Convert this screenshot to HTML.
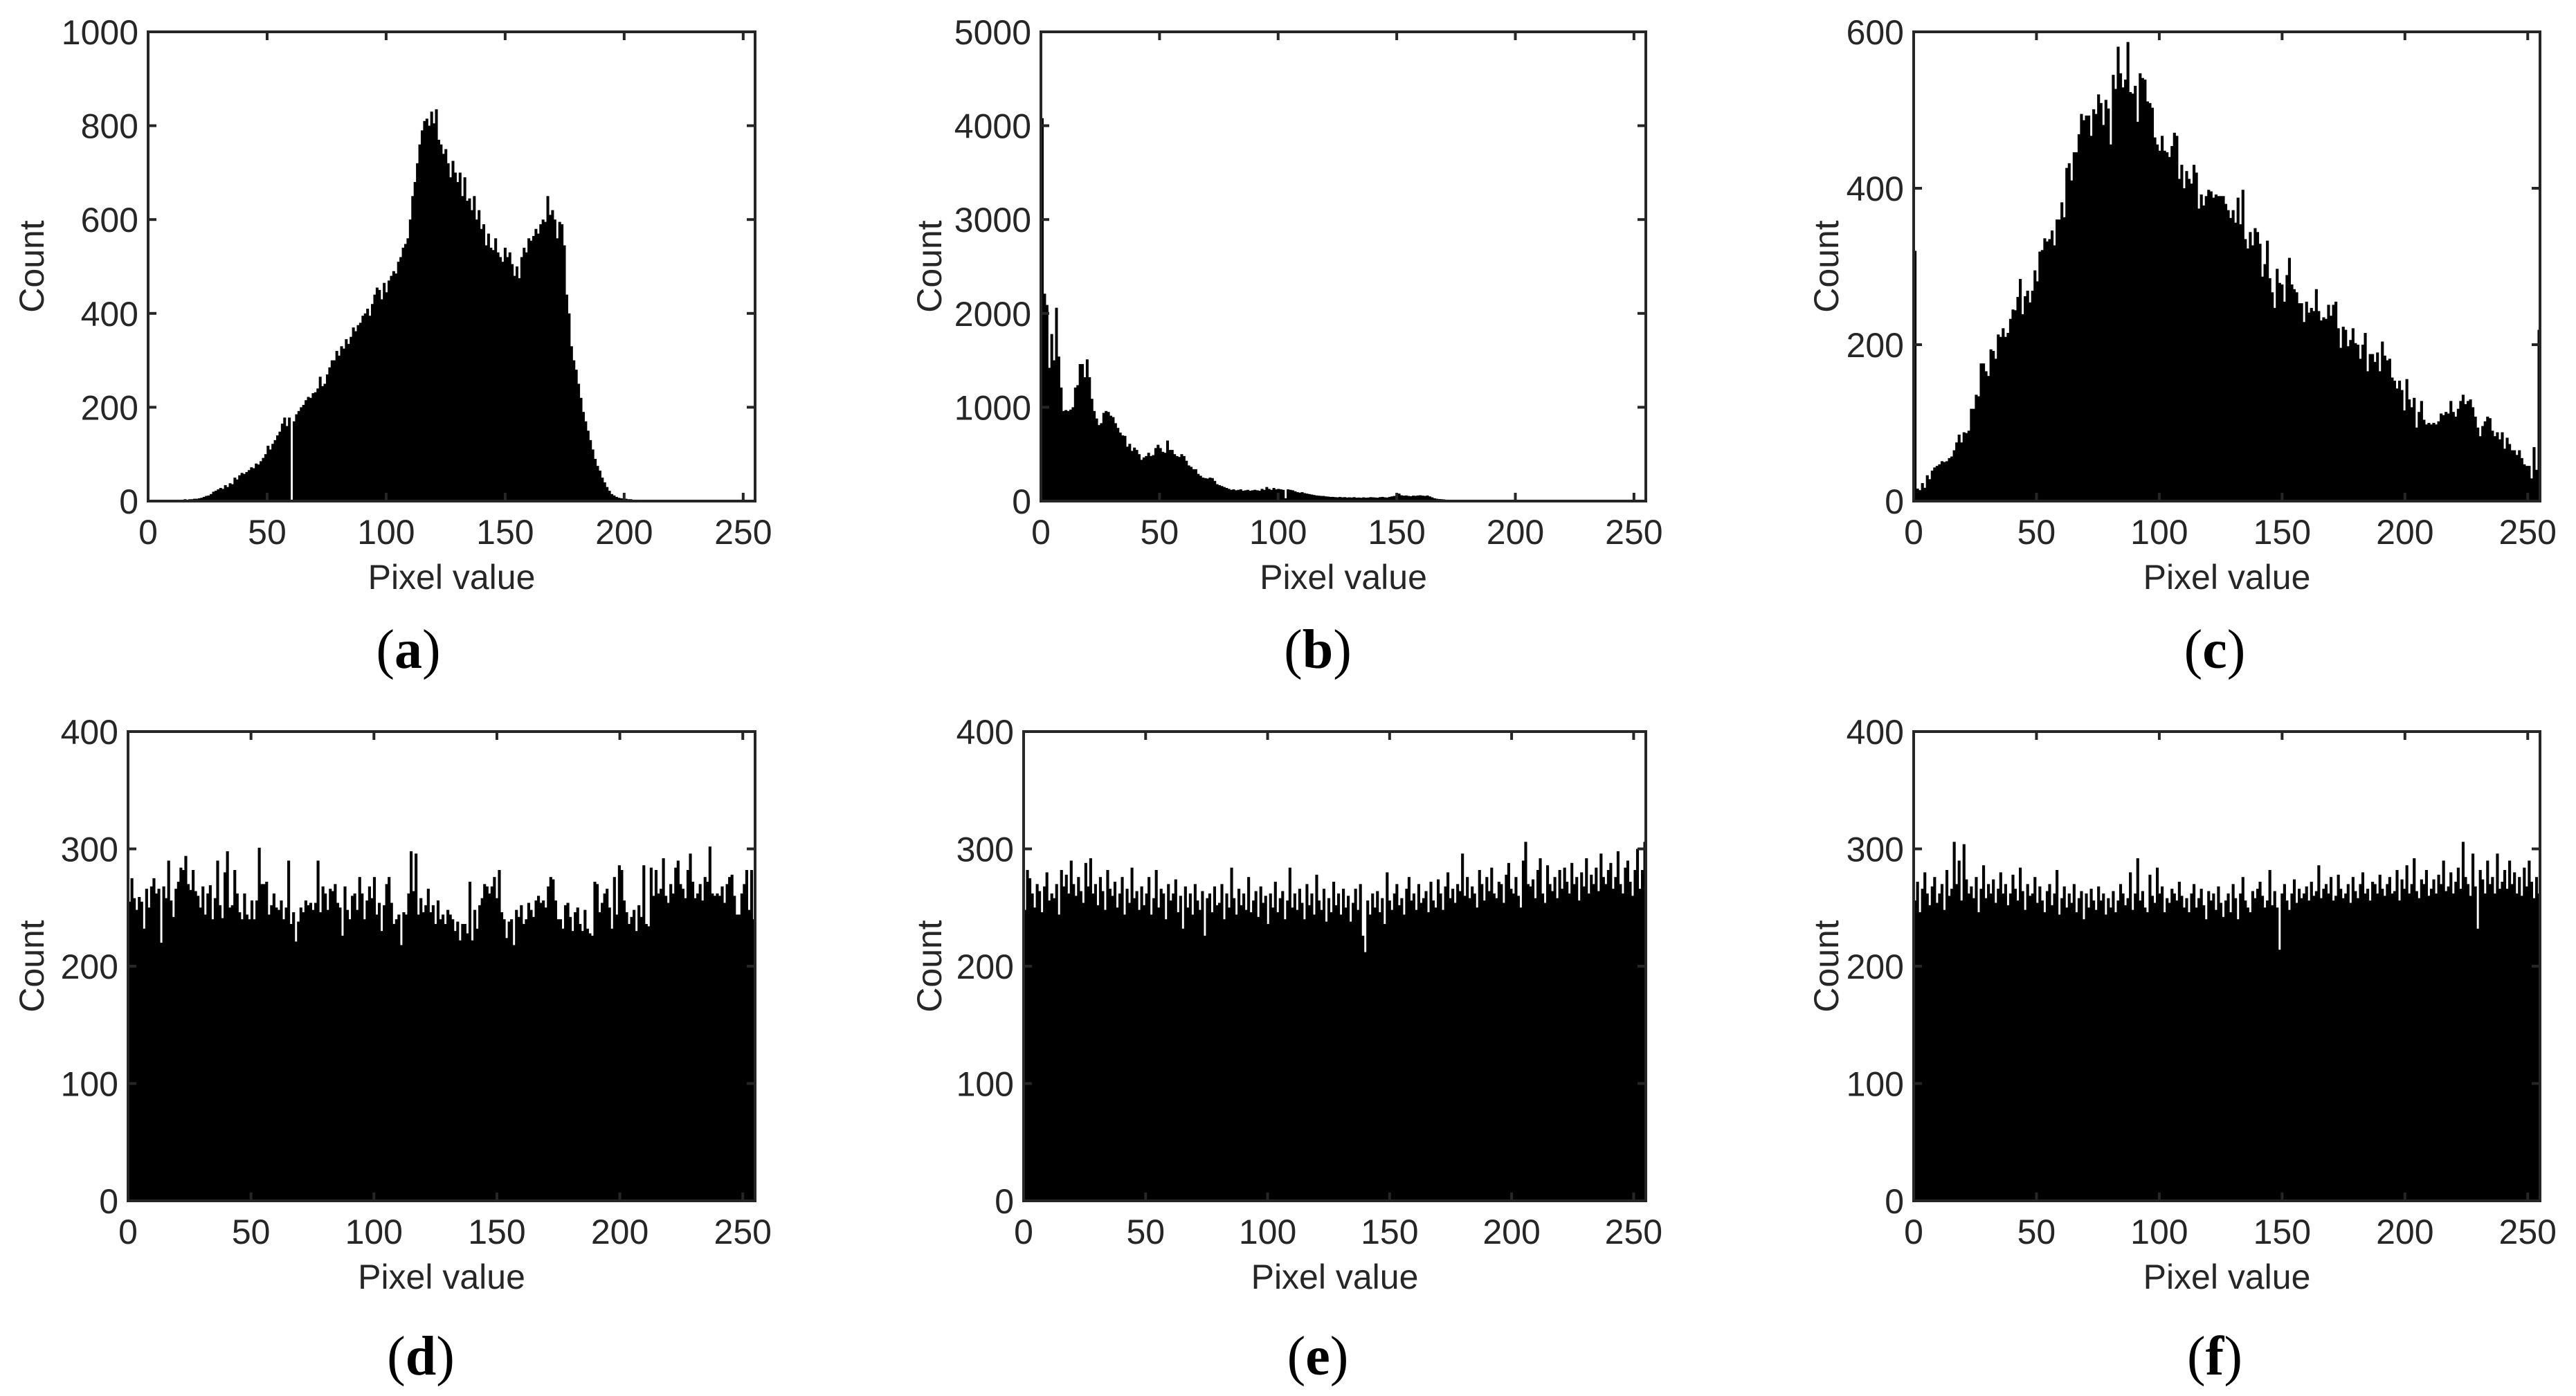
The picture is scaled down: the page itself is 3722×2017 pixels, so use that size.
<!DOCTYPE html>
<html><head><meta charset="utf-8">
<style>
html,body{margin:0;padding:0;background:#fff;}
svg{display:block;}
text{font-family:"Liberation Sans",Arial,sans-serif;fill:#262626;}
.lbl{font-family:"Liberation Serif","Times New Roman",serif;fill:#000;}
</style></head>
<body>
<svg id="fig" width="3722" height="2017" viewBox="0 0 3722 2017" xmlns="http://www.w3.org/2000/svg"></svg>
<script>
const binsA = [0,0,0,0,0,0,0,0,0,0,
1,2,3,2,3,4,3,4,4,5,
5,6,7,9,11,12,15,20,22,25,
28,26,34,30,38,36,50,46,55,60,
58,62,66,72,70,80,78,85,92,100,
118,110,122,130,140,148,165,178,160,178,
0,170,185,192,200,205,215,222,220,230,
232,240,265,245,250,270,285,300,300,320,
310,330,325,345,335,350,370,362,375,380,
395,400,410,395,420,440,455,450,430,465,
445,470,480,490,485,510,520,540,548,560,
600,650,680,720,760,790,810,815,800,830,
805,835,770,760,740,750,720,690,725,700,
680,700,650,690,640,645,620,650,600,620,
580,590,545,570,540,535,560,530,520,510,
540,520,530,505,480,500,475,520,540,530,
560,555,565,580,570,590,600,595,650,610,
620,600,560,595,590,545,440,400,330,300,
280,250,220,190,170,150,130,110,90,75,
65,50,40,30,22,15,12,9,7,6,
5,5,4,4,3,3,3,2,2,2,
2,2,1,1,1,1,1,1,1,1,
0,0,0,0,0,0,0,0,0,0,
0,0,0,0,0,0,0,0,0,0,
0,0,0,0,0,0,0,0,0,0,
0,0,0,0,0,0];
const binsB = [4080,2210,2090,1420,1780,1500,2060,1540,1210,960,
970,960,975,1000,1210,1235,1460,1460,1320,1510,
1320,1090,960,880,810,830,940,960,950,910,
895,830,780,730,700,695,580,610,535,570,
545,500,440,465,480,515,480,490,565,600,
565,525,515,645,545,545,500,480,470,500,
480,430,380,365,340,340,290,270,250,245,
240,250,245,215,180,170,160,150,140,130,
120,125,115,120,125,110,115,120,110,115,
120,115,110,130,120,150,130,120,140,125,
130,125,120,30,125,120,115,105,95,90,
95,85,80,75,70,65,60,58,55,55,
50,48,45,45,42,40,45,40,42,38,
40,38,42,36,38,35,40,36,38,42,
40,38,36,42,45,40,38,45,50,55,
60,80,62,58,60,55,52,58,56,60,
62,58,55,60,50,40,30,25,22,20,
18,15,14,12,12,10,10,10,9,9,
8,8,7,7,6,6,6,5,5,5,
5,5,4,4,4,4,4,4,4,4,
3,3,3,3,3,3,3,3,3,3,
3,3,3,3,3,2,2,2,2,2,
2,2,2,2,2,2,2,2,2,2,
2,2,2,2,2,2,2,2,2,2,
2,2,2,2,10,2,12,2,2,2,
8,2,2,2,2,2];
const binsC = [320,16,14,23,17,33,28,39,43,45,47,51,50,51,55,57,65,75,85,75,
88,87,90,118,118,136,134,176,176,166,160,194,192,182,213,210,221,210,215,233,
245,244,261,284,239,262,269,254,269,295,281,319,321,336,332,335,346,327,360,360,
382,363,426,432,410,446,446,469,495,487,493,493,467,501,495,520,509,481,513,502,
456,545,527,581,547,529,539,587,523,521,531,485,547,541,539,511,509,503,465,456,
448,467,448,446,440,454,471,467,412,430,400,422,412,406,430,420,374,392,378,390,
398,396,388,392,390,390,390,380,372,362,372,356,388,354,398,335,323,344,327,349,
344,329,287,303,333,285,267,247,297,279,277,255,289,311,277,271,267,253,253,229,
255,241,247,243,271,243,231,235,233,251,237,251,255,221,196,223,219,198,206,221,
202,200,182,200,215,166,188,188,178,190,166,204,186,180,182,158,154,144,154,142,
116,156,130,120,132,94,114,128,104,98,100,98,100,98,102,112,110,114,112,128,
114,108,118,128,136,124,128,130,120,108,94,83,96,102,108,106,90,83,88,79,
88,67,81,73,65,65,59,65,55,47,45,45,29,69,40,219];
const binsD = [255,275,258,248,259,255,232,266,250,268,275,262,266,220,268,258,
290,256,242,266,272,284,282,294,270,265,282,264,260,250,268,244,
262,269,240,258,290,252,241,280,298,250,252,282,262,246,240,262,
244,240,256,240,256,301,270,270,272,244,252,262,250,248,256,240,
250,290,236,246,221,238,250,246,256,252,254,248,254,290,246,268,
262,248,266,264,270,254,250,226,268,248,240,260,262,248,276,262,
240,256,268,258,276,244,254,230,252,270,276,254,236,240,244,218,
246,244,262,298,264,296,244,258,246,252,266,246,252,236,256,240,
244,236,248,244,240,230,238,222,236,236,228,272,222,248,232,252,
258,270,268,262,268,276,258,282,246,240,224,238,240,218,248,242,
252,236,240,254,248,242,256,260,254,256,250,268,276,274,256,240,
240,232,252,254,242,230,246,250,236,230,248,232,228,226,272,270,
246,254,262,266,250,232,276,244,286,282,256,246,236,242,248,230,
252,242,286,236,234,284,260,282,262,266,292,260,254,270,262,284,
290,270,266,258,282,296,272,258,262,270,256,276,272,302,262,260,
262,260,268,254,270,276,278,260,244,244,262,270,282,248,282,240];
const binsE = [248,282,275,262,250,270,264,246,268,280,256,262,258,270,244,282,
268,278,262,290,270,260,276,264,254,288,268,292,262,270,252,276,
264,248,282,266,260,272,250,262,276,244,266,254,284,258,264,248,
268,252,262,276,244,258,282,250,266,262,240,270,256,262,274,246,
260,232,268,250,262,244,270,256,248,264,226,258,262,246,268,252,
254,270,240,262,250,284,258,244,266,252,262,248,276,246,256,264,
242,268,254,260,236,262,250,272,246,258,264,240,256,284,250,262,
248,266,254,240,270,252,262,244,278,256,248,266,238,258,246,272,
252,262,244,266,250,260,238,254,266,248,270,226,212,256,244,262,
250,264,246,258,236,280,256,248,262,270,252,258,244,266,276,256,
262,248,270,254,258,264,246,272,256,250,274,262,248,268,280,258,
266,254,270,264,296,260,276,258,268,262,250,282,270,256,276,264,
284,262,258,272,270,254,278,288,266,262,276,260,250,290,306,270,
268,274,258,282,292,262,254,286,270,264,276,258,282,266,284,272,
262,288,270,276,256,280,268,292,262,278,270,284,264,296,276,270,
282,288,266,276,298,270,262,284,290,272,260,282,300,266,282,306];
const binsF = [256,272,246,266,280,262,252,268,276,254,262,270,248,282,260,266,
306,270,290,256,304,274,262,268,258,276,246,266,286,258,270,262,
274,254,266,280,262,270,252,262,278,266,256,284,264,248,270,260,
262,276,254,268,256,246,264,270,252,262,282,244,258,268,250,262,
254,270,246,258,264,240,262,250,266,256,248,268,256,262,244,258,
250,264,246,256,270,262,252,258,280,248,262,292,256,264,250,246,
278,260,254,284,262,268,246,258,254,266,262,256,272,260,250,258,
246,262,270,250,258,266,252,240,264,256,262,248,268,254,242,256,
262,246,270,258,240,262,276,256,250,246,264,258,266,272,260,250,
256,282,252,264,250,214,262,270,256,248,262,274,254,266,258,262,
268,256,272,260,264,286,258,266,270,262,276,256,260,278,266,258,
262,270,254,276,264,258,270,280,262,266,256,272,270,262,278,266,
260,270,276,262,264,282,256,274,266,286,262,270,292,264,258,274,
270,282,260,266,274,262,278,270,290,264,268,280,262,272,284,266,
306,276,270,260,296,268,232,282,274,262,290,270,276,262,296,266,
272,282,266,290,270,280,262,276,260,284,268,290,272,258,276,262];
const xTicks = [0,50,100,150,200,250];
const yTicksA = [0,200,400,600,800,1000];
const yTicksB = [0,1000,2000,3000,4000,5000];
const yTicksC = [0,200,400,600];
const yTicksD = [0,100,200,300,400];
const panelLetters = ["a","b","c","d","e","f"];

const NS = "http://www.w3.org/2000/svg";
const svg = document.getElementById("fig");
function mk(tag, attrs, parent) {
  const e = document.createElementNS(NS, tag);
  for (const k in attrs) e.setAttribute(k, attrs[k]);
  (parent || svg).appendChild(e);
  return e;
}
const panels = [
  {bins: binsA, yt: yTicksA, x0: 214, x1: 1091, y0: 46, y1: 724, lx: 590, cx: 46, ly: 939},
  {bins: binsB, yt: yTicksB, x0: 1504, x1: 2378, y0: 46, y1: 724, lx: 1904, cx: 1343, ly: 939},
  {bins: binsC, yt: yTicksC, x0: 2765, x1: 3670, y0: 46, y1: 724, lx: 3200, cx: 2639, ly: 939},
  {bins: binsD, yt: yTicksD, x0: 185, x1: 1091, y0: 1057, y1: 1735, lx: 608, cx: 46, ly: 1960},
  {bins: binsE, yt: yTicksD, x0: 1479, x1: 2378, y0: 1057, y1: 1735, lx: 1904, cx: 1343, ly: 1960},
  {bins: binsF, yt: yTicksD, x0: 2765, x1: 3670, y0: 1057, y1: 1735, lx: 3200, cx: 2639, ly: 1960}
];
panels.forEach((p, pi) => {
  const letter = panelLetters[pi];
  const g = mk("g", {});
  
  
  const ymax = p.yt[p.yt.length - 1];
  const xs = v => p.x0 + (v / 255) * (p.x1 - p.x0);
  const ys = v => p.y1 - (Math.min(v, ymax) / ymax) * (p.y1 - p.y0);
  const bw = (p.x1 - p.x0) / p.bins.length;
  const bars = mk("g", {}, g);
  
  
  p.bins.forEach((v, i) => {
    if (v <= 0) return;
    const y = ys(v);
    const r = mk("rect", {x: (p.x0 + i * bw).toFixed(2), y: y.toFixed(2), width: (bw + 0.6).toFixed(2), height: (p.y1 - y).toFixed(2), fill: "#000"}, bars);
    
    
  });
  const box = mk("rect", {x: p.x0, y: p.y0, width: p.x1 - p.x0, height: p.y1 - p.y0, fill: "none", stroke: "#262626", "stroke-width": 4}, g);
  
  
  xTicks.forEach(t => {
    const x = xs(t);
    mk("line", {x1: x, x2: x, y1: p.y1, y2: p.y1 - 12, stroke: "#262626", "stroke-width": 4}, g);
    mk("line", {x1: x, x2: x, y1: p.y0, y2: p.y0 + 12, stroke: "#262626", "stroke-width": 4}, g);
    const tx = mk("text", {x: x, y: p.y1 + 62, "font-size": 50, "text-anchor": "middle"}, g);
    tx.textContent = t;
    
    
  });
  p.yt.forEach(t => {
    const y = ys(t);
    mk("line", {x1: p.x0, x2: p.x0 + 12, y1: y, y2: y, stroke: "#262626", "stroke-width": 4}, g);
    mk("line", {x1: p.x1, x2: p.x1 - 12, y1: y, y2: y, stroke: "#262626", "stroke-width": 4}, g);
    const ty = mk("text", {x: p.x0 - 14, y: y + 18, "font-size": 50, "text-anchor": "end"}, g);
    ty.textContent = t;
    
    
  });
  const xl = mk("text", {x: (p.x0 + p.x1) / 2, y: p.y1 + 127, "font-size": 50, "text-anchor": "middle"}, g);
  xl.textContent = "Pixel value";
  
  
  const cy = (p.y0 + p.y1) / 2;
  const yl = mk("text", {x: p.cx, y: cy, "font-size": 50, "text-anchor": "middle", "dominant-baseline": "central", transform: "rotate(-90 " + p.cx + " " + cy + ")"}, g);
  yl.textContent = "Count";
  
  
  const pl = mk("text", {x: p.lx, y: p.ly + 26, "font-size": 80, "text-anchor": "middle", "class": "lbl"}, g);
  pl.innerHTML = '(<tspan font-weight="bold">' + letter + '</tspan>)';
  
  
});
</script>
</body></html>
